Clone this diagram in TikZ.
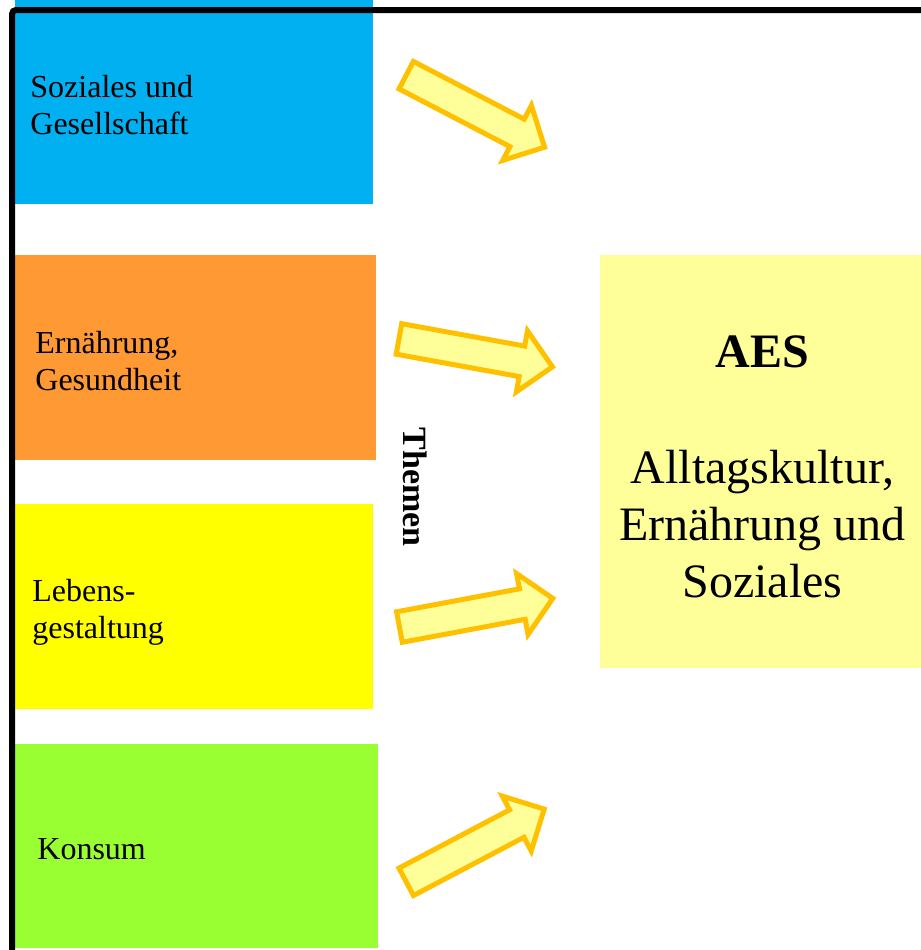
\documentclass[tikz,border=0pt]{standalone}
\usepackage{fontspec}
\setmainfont{Liberation Serif}
\usetikzlibrary{shapes.arrows, positioning}

\definecolor{themeblue}{HTML}{00B0F0}
\definecolor{themeorange}{HTML}{FF9933}
\definecolor{themeyellow}{HTML}{FFFF00}
\definecolor{themegreen}{HTML}{99FF33}
\definecolor{paleyellow}{HTML}{FFFF99}
\definecolor{arrowgold}{HTML}{FFC000}

\begin{document}
\begin{tikzpicture}[
    x=0.5pt, y=-0.5pt,
    frame/.style={line width=3pt, black, rounded corners=2pt},
    themetext/.style={anchor=west, inner sep=0pt, align=left, font=\fontsize{16}{18.5}\selectfont},
    bigarrow/.style={single arrow, draw=arrowgold, fill=paleyellow, line width=2.5pt,
        inner sep=6.5pt, minimum height=78pt, single arrow head extend=7.75pt, anchor=tail},
    aesbox/.style={fill=paleyellow, minimum width=160.5pt, minimum height=206.5pt,
        align=center, inner sep=0pt, font=\fontsize{24}{28.3}\selectfont}
]
    \useasboundingbox (0,0) rectangle (921,950);

    % === Theme Boxes ===
    \fill[themeblue]   (15,0)   rectangle (373,204);
    \fill[themeorange] (15,255) rectangle (376,460);
    \fill[themeyellow] (15,504) rectangle (373,709);
    \fill[themegreen]  (15,744) rectangle (378,948);

    \node[themetext] (soziales) at (30,105) {Soziales und\\Gesellschaft};
    \node[themetext] (ernaehrung) at (35,361) {Ernährung,\\Gesundheit};
    \node[themetext] (lebens) at (32,612) {Lebens-\\gestaltung};
    \node[themetext] (konsum) at (37,849) {Konsum};

    % === Frame ===
    \draw[frame] (930,10) -- (12,10) -- (12,960);

    % === Label between the columns ===
    \node[rotate=-90, inner sep=0pt, font=\fontsize{17}{20}\selectfont\bfseries] (themen) at (415,487) {Themen};

    % === Subject Box ===
    \node[aesbox] (aes) at (760.5,461.5) {};
    \node[align=center, inner sep=0pt, font=\fontsize{24}{28.3}\selectfont] (aestext) at ([xshift=1pt, yshift=-2.5pt]aes.center)
        {\textbf{AES}\\[30pt] Alltagskultur,\\Ernährung und\\Soziales};

    % === Arrows ===
    \node[bigarrow, rotate=-27.5] (arrow1) at (404,74) {};
    \node[bigarrow, rotate=-10.3] (arrow2) at (396.5,338.5) {};
    \node[bigarrow, rotate=10.6]  (arrow3) at (397,627.5) {};
    \node[bigarrow, rotate=27.8]  (arrow4) at (404,883) {};

\end{tikzpicture}
\end{document}
